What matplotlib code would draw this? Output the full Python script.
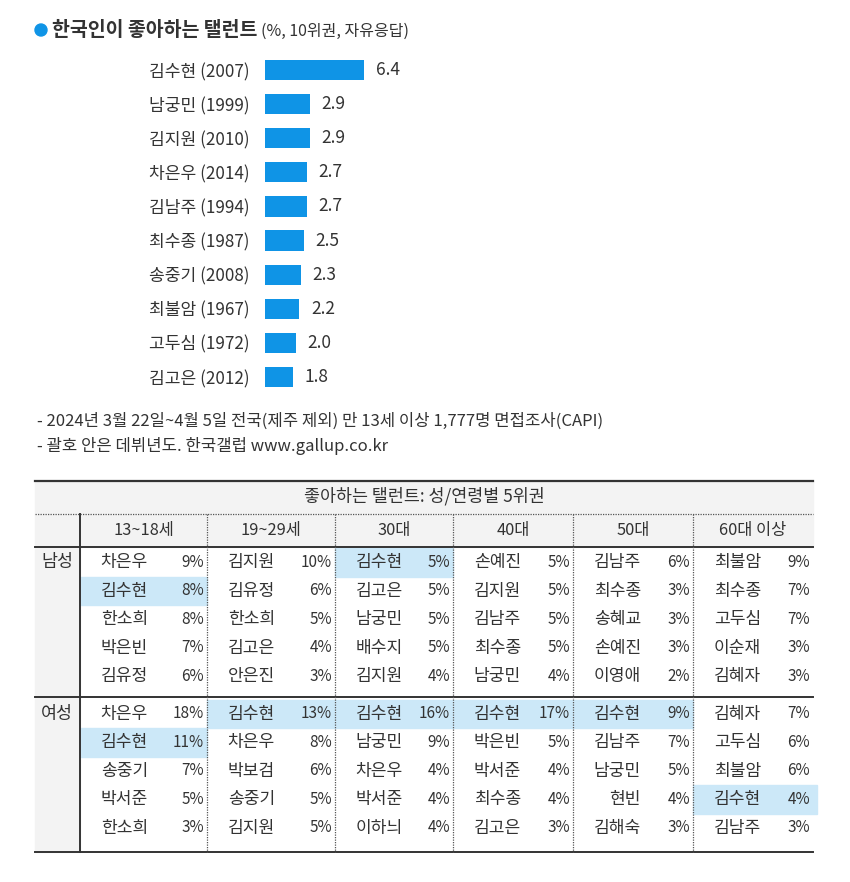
import matplotlib
matplotlib.use("Agg")
import matplotlib.pyplot as plt
from matplotlib.patches import Rectangle, Circle
import matplotlib.transforms as mtrans

plt.rcParams['font.family'] = ['Noto Sans CJK KR', 'DejaVu Sans']

# ---------------- data ----------------
names = ['김수현', '남궁민', '김지원', '차은우', '김남주', '최수종', '송중기', '최불암', '고두심', '김고은']
debut = [2007, 1999, 2010, 2014, 1994, 1987, 2008, 1967, 1972, 2012]
values = [6.4, 2.9, 2.9, 2.7, 2.7, 2.5, 2.3, 2.2, 2.0, 1.8]

title_main = '한국인이 좋아하는 탤런트'
title_sub = '(%, 10위권, 자유응답)'
notes = ['- 2024년 3월 22일~4월 5일 전국(제주 제외) 만 13세 이상 1,777명 면접조사(CAPI)',
         '- 괄호 안은 데뷔년도. 한국갤럽 www.gallup.co.kr']

table_title = '좋아하는 탤런트: 성/연령별 5위권'
age_groups = ['13~18세', '19~29세', '30대', '40대', '50대', '60대 이상']
sexes = ['남성', '여성']
male_names = [['차은우', '김수현', '한소희', '박은빈', '김유정'],
              ['김지원', '김유정', '한소희', '김고은', '안은진'],
              ['김수현', '김고은', '남궁민', '배수지', '김지원'],
              ['손예진', '김지원', '김남주', '최수종', '남궁민'],
              ['김남주', '최수종', '송혜교', '손예진', '이영애'],
              ['최불암', '최수종', '고두심', '이순재', '김혜자']]
male_pct = [[9, 8, 8, 7, 6], [10, 6, 5, 4, 3], [5, 5, 5, 5, 4],
            [5, 5, 5, 5, 4], [6, 3, 3, 3, 2], [9, 7, 7, 3, 3]]
female_names = [['차은우', '김수현', '송중기', '박서준', '한소희'],
                ['김수현', '차은우', '박보검', '송중기', '김지원'],
                ['김수현', '남궁민', '차은우', '박서준', '이하늬'],
                ['김수현', '박은빈', '박서준', '최수종', '김고은'],
                ['김수현', '김남주', '남궁민', '현빈', '김해숙'],
                ['김혜자', '고두심', '최불암', '김수현', '김남주']]
female_pct = [[18, 11, 7, 5, 3], [13, 8, 6, 5, 5], [16, 9, 4, 4, 4],
              [17, 5, 4, 4, 3], [9, 7, 5, 4, 3], [7, 6, 6, 4, 3]]
highlight_name = '김수현'

# ---------------- style ----------------
W, H = 850, 882
BLUE = '#0f94e6'
TXT = '#333333'
GRAY_BG = '#f3f3f3'
HL = '#cce8f8'
LINE = '#333333'

fig = plt.figure(figsize=(W / 100, H / 100), dpi=100)
fig.patch.set_facecolor('white')

# overlay axes in pixel coordinates
tax = fig.add_axes([0, 0, 1, 1])
tax.set_xlim(0, W)
tax.set_ylim(H, 0)
tax.axis('off')

# ---------------- title ----------------
tax.add_patch(Circle((41, 30), 6, color=BLUE, zorder=3))
t = tax.text(52, 30, title_main, fontsize=14, fontweight='bold', color=TXT,
             va='center', ha='left')
fig.canvas.draw()
bb = t.get_window_extent()
tax.text(bb.x1 + 4, 31, title_sub, fontsize=11.5, color=TXT, va='center', ha='left',
         transform=mtrans.blended_transform_factory(mtrans.IdentityTransform(), tax.transData))

# ---------------- bar chart ----------------
px_per_unit = 15.47
bar_left, bar_w_px = 265, 230
top_px, row_px = 53, 34.1
n = len(values)
bax = fig.add_axes([bar_left / W, 1 - (top_px + n * row_px) / H,
                    bar_w_px / W, n * row_px / H])
bax.set_xlim(0, bar_w_px / px_per_unit)
bax.set_ylim(n - 0.5, -0.5)
ypos = list(range(n))
bax.barh(ypos, values, height=0.59, color=BLUE)
bax.set_yticks(ypos)
bax.set_yticklabels([f'{nm} ({d})' for nm, d in zip(names, debut)],
                    fontsize=12.3, color=TXT)
bax.tick_params(axis='y', length=0, pad=11)
bax.set_xticks([])
for s in bax.spines.values():
    s.set_visible(False)
bax.patch.set_alpha(0)
for y, v in zip(ypos, values):
    bax.annotate(f'{v:.1f}', (v, y), xytext=(8.5, 0), textcoords='offset points',
                 va='center', ha='left', fontsize=12.5, color=TXT)

# ---------------- notes ----------------
tax.text(37, 421, notes[0], fontsize=12, color=TXT, va='center', ha='left')
tax.text(37, 446, notes[1], fontsize=12, color=TXT, va='center', ha='left')

# ---------------- table ----------------
T_left, T_right = 35, 813
y_top, y_hdr1, y_hdr2 = 481, 514, 547
sec_tops = [548, 699.5]
row_h = 28.5
y_sep, y_bot = 697, 852
col_edges = [80, 207, 335, 453, 573, 693, 813]

# backgrounds
tax.add_patch(Rectangle((T_left, y_top), T_right - T_left, y_hdr2 - y_top,
                        color=GRAY_BG, zorder=0))
tax.add_patch(Rectangle((T_left, y_hdr2), col_edges[0] - T_left, y_bot - y_hdr2,
                        color=GRAY_BG, zorder=0))

# highlights
for s, nms in enumerate([male_names, female_names]):
    for c in range(len(age_groups)):
        for r in range(5):
            if nms[c][r] == highlight_name:
                y0 = sec_tops[s] + r * row_h
                extra = 4 if c == len(age_groups) - 1 else 0
                tax.add_patch(Rectangle((col_edges[c], y0),
                                        col_edges[c + 1] - col_edges[c] + extra, row_h,
                                        color=HL, zorder=0.5))

# lines
tax.plot([T_left, T_right], [y_top, y_top], color=LINE, lw=1.6, zorder=2)
tax.plot([T_left, T_right], [y_hdr1, y_hdr1], color='#555555', lw=0.9, ls=(0, (1, 1)), zorder=2)
tax.plot([T_left, T_right], [y_hdr2, y_hdr2], color=LINE, lw=1.4, zorder=2)
tax.plot([T_left, T_right], [y_sep, y_sep], color=LINE, lw=1.4, zorder=2)
tax.plot([T_left, T_right], [y_bot, y_bot], color=LINE, lw=1.4, zorder=2)
tax.plot([col_edges[0], col_edges[0]], [y_hdr1, y_bot], color=LINE, lw=1.4, zorder=2)
for x in col_edges[1:-1]:
    tax.plot([x, x], [y_hdr1, y_bot], color='#555555', lw=0.9, ls=(0, (1, 1)), zorder=2)

# header texts
tax.text((T_left + T_right) / 2, 496, table_title, fontsize=12.5, color=TXT,
         ha='center', va='center')
for c, g in enumerate(age_groups):
    tax.text((col_edges[c] + col_edges[c + 1]) / 2, 530, g, fontsize=11.8, color=TXT,
             ha='center', va='center')

# cells
for s, (sx, nms, pcts) in enumerate(zip(sexes, [male_names, female_names],
                                        [male_pct, female_pct])):
    y_first = sec_tops[s] + row_h / 2
    tax.text(57, y_first, sx, fontsize=12.5, color=TXT, ha='center', va='center')
    for c in range(len(age_groups)):
        for r in range(5):
            y = sec_tops[s] + r * row_h + row_h / 2
            tax.text(col_edges[c] + 68, y, nms[c][r], fontsize=12.3, color=TXT,
                     ha='right', va='center', zorder=3)
            tax.text(col_edges[c + 1] - 3, y, f'{pcts[c][r]}%', fontsize=11, color=TXT,
                     ha='right', va='center', zorder=3)

fig.savefig('out.png', dpi=100, facecolor='white')
